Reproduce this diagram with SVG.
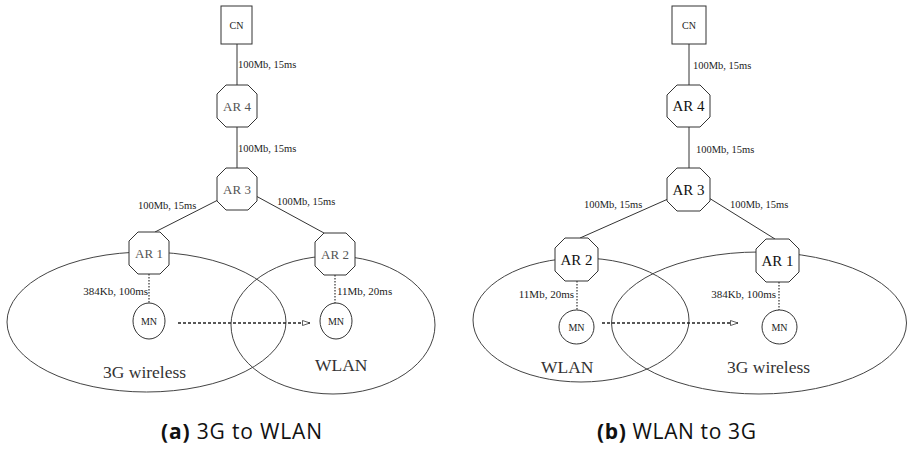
<svg xmlns="http://www.w3.org/2000/svg" width="907" height="449" viewBox="0 0 907 449">
<defs>
<style>
.ln{stroke:#333;stroke-width:1;fill:none}
.ell{stroke:#444;stroke-width:1;fill:none}
.dot{stroke:#333;stroke-width:1.2;stroke-dasharray:1.5 1.5;fill:none}
.dash{stroke:#222;stroke-width:1.3;stroke-dasharray:3 2;fill:none}
.box{stroke:#333;stroke-width:1;fill:#fff}
.t{font-family:"Liberation Serif",serif;fill:#222}
.lab{font-size:10.5px}
.lab2{font-size:11px}
.small{font-size:10px;text-anchor:middle}
.ara{font-size:13px;text-anchor:middle;fill:#555}
.arb{font-size:15px;text-anchor:middle;fill:#111}
.reg{font-size:17.5px;fill:#333}
.cap{font-family:"Open Sans","Liberation Sans",sans-serif;font-size:21px;fill:#111}
</style>
<marker id="ah" markerWidth="10" markerHeight="8" refX="8" refY="3" orient="auto" markerUnits="userSpaceOnUse">
<path d="M0.5,0.5 L8,3 L0.5,5.5 z" fill="#fff" stroke="#333" stroke-width="0.8"/>
</marker>
</defs>
<rect width="907" height="449" fill="#fff"/>

<!-- regions (a) -->
<g id="a-3g-region"><ellipse class="ell" cx="146.5" cy="322" rx="139.5" ry="70"/><text class="t reg" x="103" y="378">3G wireless</text></g>
<g id="a-wlan-region"><ellipse class="ell" cx="333" cy="325" rx="102" ry="69"/><text class="t reg" x="315" y="371">WLAN</text></g>
<!-- regions (b) -->
<g id="b-wlan-region"><ellipse class="ell" cx="581" cy="320" rx="108" ry="62"/><text class="t reg" x="541" y="373">WLAN</text></g>
<g id="b-3g-region"><ellipse class="ell" cx="759" cy="323" rx="147.5" ry="71"/><text class="t reg" x="727" y="373">3G wireless</text></g>

<g id="connectors">
<!-- (a) -->
<line class="ln" x1="237" y1="44" x2="237" y2="85"/>
<line class="ln" x1="237" y1="127" x2="237" y2="168"/>
<line class="ln" x1="218" y1="200" x2="155" y2="232"/>
<line class="ln" x1="256" y1="196" x2="324" y2="233"/>
<line class="dot" x1="149" y1="274" x2="149" y2="303"/>
<line class="dot" x1="335" y1="275" x2="335" y2="303"/>
<line class="dash" x1="178" y1="323" x2="310" y2="323" marker-end="url(#ah)"/>
<!-- (b) -->
<line class="ln" x1="689" y1="44" x2="689" y2="85"/>
<line class="ln" x1="689" y1="127" x2="689" y2="168"/>
<line class="ln" x1="668" y1="199" x2="580" y2="238"/>
<line class="ln" x1="709" y1="198" x2="775" y2="239"/>
<line class="dot" x1="577" y1="281" x2="577" y2="310"/>
<line class="dot" x1="779" y1="282" x2="779" y2="310"/>
<line class="dash" x1="602" y1="323" x2="738" y2="323" marker-end="url(#ah)"/>
<!-- link labels -->
<text class="t lab" x="238" y="68">100Mb, 15ms</text>
<text class="t lab" x="238" y="152">100Mb, 15ms</text>
<text class="t lab" x="138" y="209">100Mb, 15ms</text>
<text class="t lab" x="277" y="205">100Mb, 15ms</text>
<text class="t lab2" x="148" y="295" text-anchor="end">384Kb, 100ms</text>
<text class="t lab2" x="337" y="295">11Mb, 20ms</text>
<text class="t lab" x="693" y="69">100Mb, 15ms</text>
<text class="t lab" x="696" y="153">100Mb, 15ms</text>
<text class="t lab" x="584" y="208">100Mb, 15ms</text>
<text class="t lab" x="730" y="208">100Mb, 15ms</text>
<text class="t lab2" x="574" y="298" text-anchor="end">11Mb, 20ms</text>
<text class="t lab2" x="776" y="298" text-anchor="end">384Kb, 100ms</text>
</g>

<!-- nodes (a) -->
<g id="a-cn"><rect class="box" x="221" y="6" width="31" height="38"/><text class="t small" x="236.5" y="29">CN</text></g>
<g id="a-ar4"><polygon class="box" points="226,85 248,85 257,94 257,118 248,127 226,127 217,118 217,94"/><text class="t ara" x="237" y="111">AR 4</text></g>
<g id="a-ar3"><polygon class="box" points="226,168 248,168 257,177 257,201 248,210 226,210 217,201 217,177"/><text class="t ara" x="237" y="194">AR 3</text></g>
<g id="a-ar1"><polygon class="box" points="138,232 160,232 169,241 169,265 160,274 138,274 129,265 129,241"/><text class="t ara" x="149" y="258">AR 1</text></g>
<g id="a-ar2"><polygon class="box" points="324,233 346,233 355,242 355,266 346,275 324,275 315,266 315,242"/><text class="t ara" x="335" y="259">AR 2</text></g>
<g id="a-mn1"><ellipse class="box" cx="149" cy="321" rx="16" ry="18"/><text class="t small" x="149" y="325">MN</text></g>
<g id="a-mn2"><ellipse class="box" cx="336" cy="321" rx="16" ry="18"/><text class="t small" x="336" y="325">MN</text></g>

<!-- nodes (b) -->
<g id="b-cn"><rect class="box" x="672" y="6" width="34" height="38"/><text class="t small" x="689" y="29">CN</text></g>
<g id="b-ar4"><polygon class="box" points="677,85 700,85 710,95 710,117 700,127 677,127 667,117 667,95"/><text class="t arb" x="688.5" y="111">AR 4</text></g>
<g id="b-ar3"><polygon class="box" points="677,168 700,168 710,178 710,201 700,211 677,211 667,201 667,178"/><text class="t arb" x="688.5" y="195">AR 3</text></g>
<g id="b-ar2"><polygon class="box" points="565,238 588,238 598,248 598,271 588,281 565,281 555,271 555,248"/><text class="t arb" x="576.5" y="265">AR 2</text></g>
<g id="b-ar1"><polygon class="box" points="766,239 789,239 799,249 799,272 789,282 766,282 756,272 756,249"/><text class="t arb" x="777.5" y="266">AR 1</text></g>
<g id="b-mn1"><ellipse class="box" cx="576.5" cy="327" rx="17.5" ry="17"/><text class="t small" x="576.5" y="331">MN</text></g>
<g id="b-mn2"><ellipse class="box" cx="779.5" cy="327" rx="17.5" ry="17"/><text class="t small" x="779.5" y="331">MN</text></g>

<!-- captions -->
<text class="cap" x="161" y="439" textLength="161" lengthAdjust="spacing"><tspan font-weight="bold">(a)</tspan> 3G to WLAN</text>
<text class="cap" x="597" y="439" textLength="159" lengthAdjust="spacing"><tspan font-weight="bold">(b)</tspan> WLAN to 3G</text>
</svg>
